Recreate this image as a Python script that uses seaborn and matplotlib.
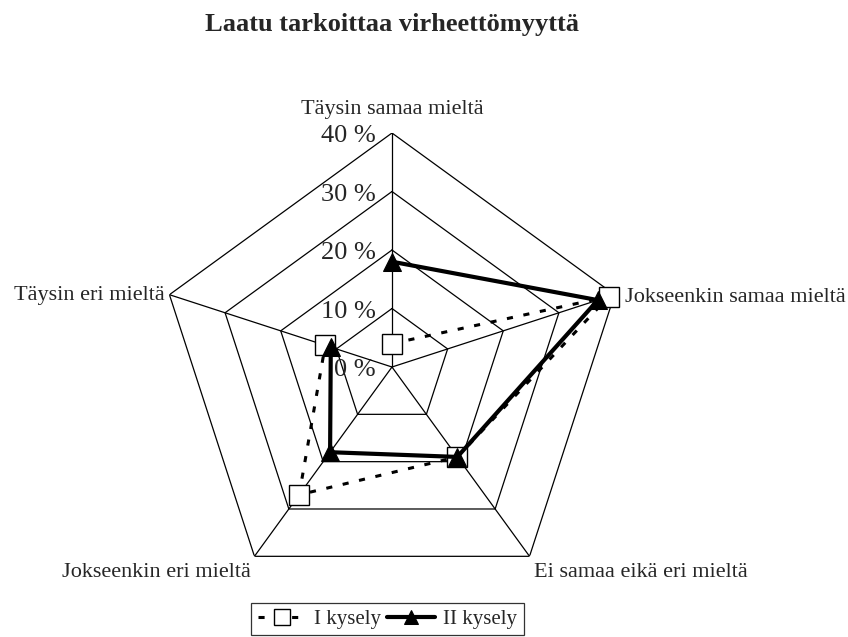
import numpy as np
import pandas as pd
import matplotlib
matplotlib.use("Agg")
import matplotlib.pyplot as plt
import seaborn as sns

sns.set_theme(style="white")
plt.rcParams["font.family"] = ["Liberation Serif", "DejaVu Serif"]

# Survey answers (share of respondents, %)
categories = [
    "Täysin samaa mieltä",
    "Jokseenkin samaa mieltä",
    "Ei samaa eikä eri mieltä",
    "Jokseenkin eri mieltä",
    "Täysin eri mieltä",
]
survey_1 = [4, 39, 19, 27, 12]
survey_2 = [18, 37, 19, 18, 11]
series_names = ["I kysely", "II kysely"]
ring_values = [0, 10, 20, 30, 40]
ring_labels = ["0 %", "10 %", "20 %", "30 %", "40 %"]
title = "Laatu tarkoittaa virheettömyyttä"

n = len(categories)
theta = np.arange(n) * 2 * np.pi / n
theta_closed = np.append(theta, theta[0])

fig = plt.figure(figsize=(8.48, 6.37), dpi=100)
ax = fig.add_axes([0.1863, 0.0565, 0.5519, 0.7347], projection="polar")
ax.set_theta_offset(np.pi / 2)
ax.set_theta_direction(-1)
ax.set_ylim(0, 40)
ax.grid(False)
ax.spines["polar"].set_visible(False)
ax.set_xticks([])
ax.set_yticks([])
ax.patch.set_alpha(0)

# Pentagon grid rings and spokes
for r in ring_values[1:]:
    ax.plot(theta_closed, [r] * (n + 1), color="black", lw=0.9, zorder=1)
for t in theta:
    ax.plot([t, t], [0, ring_values[-1]], color="black", lw=0.9, zorder=1)

# Ring value labels along the top spoke
for r, lab in zip(ring_values, ring_labels):
    ax.annotate(lab, xy=(0, r), xytext=(-16, -3), textcoords="offset pixels",
                ha="right", va="center", fontsize=19, zorder=2)

# Category labels at the outer vertices
label_offsets = [(0, 24), (10, -3), (4, -16), (-4, -16), (-5, -1)]
label_align = [("center", "center"), ("left", "center"), ("left", "center"),
               ("right", "center"), ("right", "center")]
for t, cat, off, (ha, va) in zip(theta, categories, label_offsets, label_align):
    ax.annotate(cat, xy=(t, ring_values[-1]), xytext=off, textcoords="offset pixels",
                ha=ha, va=va, fontsize=16, annotation_clip=False)

df = pd.DataFrame({
    "theta": np.concatenate([theta_closed, theta_closed]),
    "value": survey_1 + [survey_1[0]] + survey_2 + [survey_2[0]],
    "series": [series_names[0]] * (n + 1) + [series_names[1]] * (n + 1),
})

d1 = df[df["series"] == series_names[0]]
d2 = df[df["series"] == series_names[1]]
sns.lineplot(data=d1, x="theta", y="value", sort=False, ax=ax, color="black",
             lw=2.2, linestyle=(0, (2, 3.5)), marker="s", markersize=14,
             markerfacecolor="white", markeredgecolor="black", markeredgewidth=1.0,
             label=series_names[0], zorder=3, clip_on=False)
sns.lineplot(data=d2, x="theta", y="value", sort=False, ax=ax, color="black",
             lw=3, marker="^", markersize=13, markerfacecolor="black",
             markeredgecolor="black", label=series_names[1], zorder=4, clip_on=False)
ax.set_xlabel("")
ax.set_ylabel("")
ax.set_ylim(0, 40)

handles, labels = ax.get_legend_handles_labels()
ax.get_legend().remove()
leg = fig.legend(handles, labels, loc="upper center", bbox_to_anchor=(0.457, 0.0534),
                 ncol=2, fontsize=15, frameon=True, fancybox=False, edgecolor="black",
                 handlelength=2.3, columnspacing=0.3, handletextpad=0.4,
                 borderpad=0.3, borderaxespad=0, markerscale=0.8)
leg.get_frame().set_linewidth(0.9)

fig.text(0.4617, 1 - 24 / 637, title, ha="center", va="center",
         fontsize=19, fontweight="bold")

fig.savefig("out.png", dpi=100, facecolor="white")
